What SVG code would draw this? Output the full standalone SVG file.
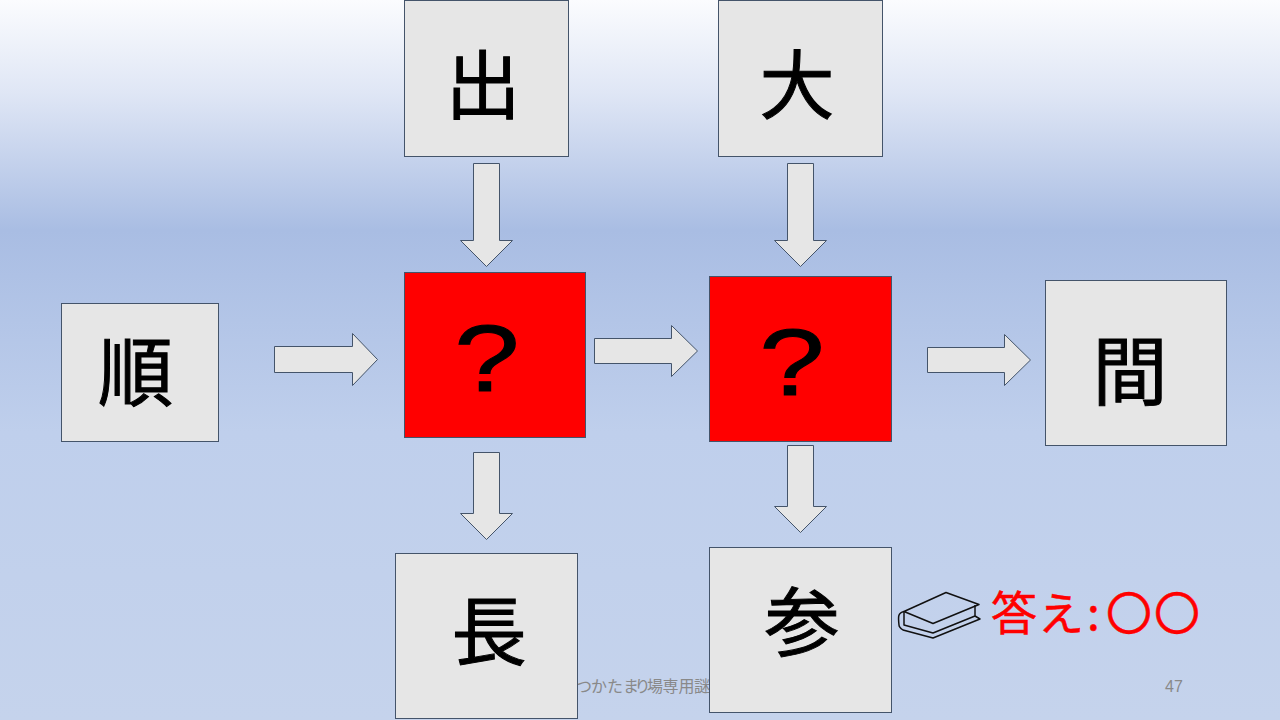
<svg xmlns="http://www.w3.org/2000/svg" width="1280" height="720" viewBox="0 0 1280 720">
<style>
.box{fill:#e6e6e6;stroke:#44546a;stroke-width:1}
.red{fill:#ff0000;stroke:#44546a;stroke-width:1}
.arr{fill:#e6e6e6;stroke:#44546a;stroke-width:1}
.k{font-family:"Noto Sans CJK JP","Liberation Sans",sans-serif;font-size:75px;fill:#000;stroke:#000;stroke-width:1;text-anchor:middle}
.q{font-family:"Liberation Sans",sans-serif;font-size:94px;fill:#000;stroke:#000;stroke-width:1;text-anchor:middle}
.ans{font-family:"Noto Sans CJK JP","Liberation Sans",sans-serif;font-size:46px;fill:#ff0000;stroke:#ff0000;stroke-width:0.5}
.ft{font-family:"Noto Sans CJK JP","Liberation Sans",sans-serif;font-size:16px;fill:#898989}
</style>
<defs>
<linearGradient id="bg" x1="0" y1="0" x2="0" y2="1">
<stop offset="0" stop-color="#fbfcfe"/>
<stop offset="0.13" stop-color="#dfe6f5"/>
<stop offset="0.32" stop-color="#a9bde3"/>
<stop offset="0.6" stop-color="#bfcfec"/>
<stop offset="1" stop-color="#c5d3ec"/>
</linearGradient>
</defs>
<rect width="1280" height="720" fill="url(#bg)"/>
<text class="ft" x="576 591 607 623 634.500 647 662.500 678.500 694" y="692">つかたまり場専用謎</text>
<text x="1174" y="692" font-family="Liberation Sans,sans-serif" font-size="16" fill="#898989" text-anchor="middle">47</text>
<g id="connectors">
<path class="arr" d="M473.500 163.500H499.500V240.500H512.500L486.500 266.500L460.500 240.500H473.500Z"/>
<path class="arr" d="M787.500 163.500H813.500V240.500H826.500L800.500 266.500L774.500 240.500H787.500Z"/>
<path class="arr" d="M274.500 346.500H352.500V333.500L377.500 359.500L352.500 385.500V372.500H274.500Z"/>
<path class="arr" d="M594.500 338.500H671.500V325.500L697.500 351L671.500 376.500V363.500H594.500Z"/>
<path class="arr" d="M927.500 347.500H1004.500V334.500L1030.500 360L1004.500 385.500V372.500H927.500Z"/>
<path class="arr" d="M473.500 452.500H499.500V513.500H512.500L486.500 539.500L460.500 513.500H473.500Z"/>
<path class="arr" d="M787.500 445.500H813.500V506.500H826.500L800.500 532.500L774.500 506.500H787.500Z"/>
</g>
<g id="node-de"><rect class="box" x="404.500" y="0.500" width="164" height="156"/><text class="k" x="483" y="113">出</text></g>
<g id="node-dai"><rect class="box" x="718.500" y="0.500" width="164" height="156"/><text class="k" x="797" y="112.500">大</text></g>
<g id="node-jun"><rect class="box" x="61.500" y="303.500" width="157" height="138"/><text class="k" x="135.500" y="400">順</text></g>
<g id="node-q1"><rect class="red" x="404.500" y="272.500" width="181" height="165"/><text class="q" transform="translate(487 391) scale(1.25 1)">?</text></g>
<g id="node-q2"><rect class="red" x="709.500" y="276.500" width="182" height="165"/><text class="q" transform="translate(792 395) scale(1.25 1)">?</text></g>
<g id="node-ma"><rect class="box" x="1045.500" y="280.500" width="181" height="165"/><text class="k" x="1130" y="399">間</text></g>
<g id="node-cho"><rect class="box" x="395.500" y="553.500" width="182" height="165"/><text class="k" x="489" y="659">長</text></g>
<g id="node-san"><rect class="box" x="709.500" y="547.500" width="182" height="165"/><text class="k" x="802" y="650">参</text></g>
<g id="answer">
<g fill="none" stroke="#111" stroke-width="1.5" stroke-linejoin="round">
<path d="M946 592.500L979 604.500L933 623.500L904 611.500Z"/>
<path d="M904 611.500C898 613 898 616 899 625C899 627 900 628 903 630L933 638L980 619L975 616"/>
<path d="M904 611.500V625L933 633L975 616V605"/>
</g>
<text class="ans" x="991 1038 1087 1106 1154" y="630">答え:〇〇</text>
</g>
</svg>
